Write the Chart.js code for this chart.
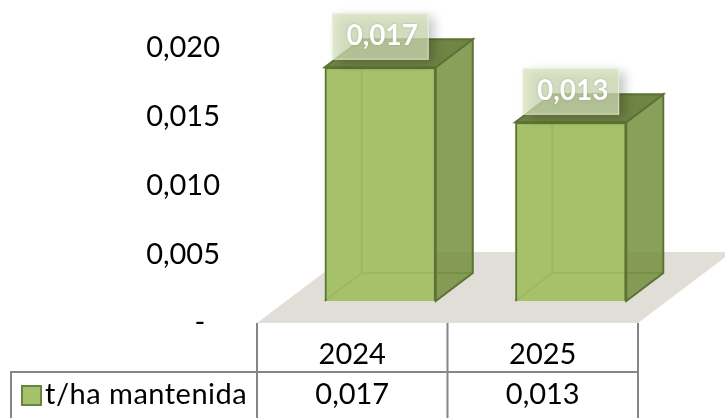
<!DOCTYPE html>
<html>
<head>
<meta charset="utf-8">
<script src="https://cdn.jsdelivr.net/npm/chart.js@4/dist/chart.umd.min.js"></script>
<style>
  html, body { margin: 0; padding: 0; background: #fff; }
  canvas { display: block; }
</style>
</head>
<body>
<canvas id="barChart" width="725" height="418"></canvas>
<script>
const years = ['2024', '2025'];
const seriesName = 't/ha mantenida';
const values = [0.017, 0.013];
const yTicks = [0, 0.005, 0.01, 0.015, 0.02];

const FONT = 'Lato, "Open Sans", sans-serif';
const depthX = 37;
const depthY = 28;
const barShiftX = 28;
const barShiftY = 22;

function fmt(v) {
  return v === 0 ? '-\u00a0\u00a0' : v.toFixed(3).replace('.', ',');
}

function poly(ctx, pts, fill, stroke) {
  ctx.beginPath();
  pts.forEach((p, i) => i ? ctx.lineTo(p[0], p[1]) : ctx.moveTo(p[0], p[1]));
  ctx.closePath();
  if (fill) { ctx.fillStyle = fill; ctx.fill(); }
  if (stroke) { ctx.strokeStyle = stroke; ctx.lineWidth = 2; ctx.stroke(); }
}

// floor of the 3D plot, sits under everything
const floorPlugin = {
  id: 'floor',
  beforeDatasetsDraw(chart) {
    const { ctx, chartArea: a } = chart;
    ctx.save();
    poly(ctx, [[a.left, a.bottom], [a.right, a.bottom], [a.right + 94, a.bottom - 71], [a.left + 94, a.bottom - 71]], '#e0ded7');
    ctx.restore();
  }
};

// moves the bar fronts into the box plane and paints the rest of each box
const boxPlugin = {
  id: 'box',
  beforeDatasetDraw(chart, args) {
    const ctx = chart.ctx;
    ctx.save();
    ctx.translate(barShiftX, -barShiftY);
    args.meta.data.forEach(bar => {
      const l = bar.x - bar.width / 2, r = bar.x + bar.width / 2;
      const t = bar.y, b = bar.base;
      const edge = '#5c7334';
      // back and floor faces show through the front
      ctx.fillStyle = '#a3bf6a';
      ctx.fillRect(l, t, r - l, b - t);
      // edges behind the front face
      ctx.strokeStyle = '#7f9a4c';
      ctx.lineWidth = 2;
      ctx.beginPath();
      ctx.moveTo(l + depthX, t - depthY);
      ctx.lineTo(l + depthX, b - depthY);
      ctx.lineTo(r + depthX, b - depthY);
      ctx.moveTo(l + depthX, b - depthY);
      ctx.lineTo(l, b);
      ctx.stroke();
      // side and top
      poly(ctx, [[r, t], [r + depthX, t - depthY], [r + depthX, b - depthY], [r, b]], 'rgba(116,143,62,0.85)', edge);
      poly(ctx, [[l, t], [l + depthX, t - depthY], [r + depthX, t - depthY], [r, t]], '#6f8545', edge);
    });
  },
  afterDatasetDraw(chart) {
    chart.ctx.restore();
  }
};

// value labels on their translucent plates
const labelPlugin = {
  id: 'valueLabels',
  afterDatasetsDraw(chart) {
    const ctx = chart.ctx;
    chart.getDatasetMeta(0).data.forEach((bar, i) => {
      const cx = bar.x + barShiftX;
      const cy = bar.y - barShiftY - 31;
      ctx.save();
      ctx.shadowColor = 'rgba(0,0,0,0.3)';
      ctx.shadowBlur = 10;
      ctx.shadowOffsetX = 6;
      ctx.shadowOffsetY = 4;
      ctx.fillStyle = 'rgba(214,226,186,0.72)';
      ctx.fillRect(cx - 48, cy - 23, 96, 46);
      ctx.restore();
      ctx.save();
      ctx.strokeStyle = 'rgba(240,245,225,0.8)';
      ctx.lineWidth = 1;
      ctx.strokeRect(cx - 48, cy - 23, 96, 46);
      ctx.shadowColor = 'rgba(60,70,30,0.35)';
      ctx.shadowBlur = 2;
      ctx.fillStyle = '#fff';
      ctx.font = 'bold 28px ' + FONT;
      ctx.textAlign = 'center';
      ctx.textBaseline = 'middle';
      ctx.fillText(fmt(values[i]), cx + 2, cy);
      ctx.restore();
    });
  }
};

// data table under the plot
const tablePlugin = {
  id: 'dataTable',
  afterDraw(chart) {
    const { ctx, chartArea: a, scales } = chart;
    const rowY = 372, endY = 418, tableLeft = 11;
    ctx.save();
    ctx.strokeStyle = '#868686';
    ctx.lineWidth = 2;
    ctx.beginPath();
    ctx.moveTo(tableLeft, endY);
    ctx.lineTo(tableLeft, rowY);
    ctx.lineTo(a.right, rowY);
    const step = (a.right - a.left) / years.length;
    for (let i = 0; i <= years.length; i++) {
      ctx.moveTo(a.left + i * step, a.bottom);
      ctx.lineTo(a.left + i * step, endY);
    }
    ctx.stroke();
    // legend key
    ctx.fillStyle = '#a5c16b';
    ctx.strokeStyle = '#6b8340';
    ctx.fillRect(22, 386, 19, 19);
    ctx.strokeRect(22, 386, 19, 19);
    ctx.fillStyle = '#000';
    ctx.font = '29px ' + FONT;
    ctx.textBaseline = 'middle';
    ctx.textAlign = 'center';
    values.forEach((v, i) => {
      ctx.fillText(fmt(v), scales.x.getPixelForValue(i), 395);
    });
    ctx.textAlign = 'left';
    ctx.letterSpacing = '0.5px';
    ctx.fillText(seriesName, 45, 395);
    ctx.restore();
  }
};

new Chart(document.getElementById('barChart'), {
  type: 'bar',
  data: {
    labels: years,
    datasets: [{
      label: seriesName,
      data: values,
      backgroundColor: 'rgba(165,193,107,0.75)',
      borderColor: '#5c7334',
      borderWidth: 2,
      barPercentage: 0.583,
      categoryPercentage: 1
    }]
  },
  plugins: [floorPlugin, boxPlugin, labelPlugin, tablePlugin],
  options: {
    responsive: false,
    animation: false,
    layout: { padding: { top: 48, right: 87, bottom: 0, left: 0 } },
    plugins: { legend: { display: false }, tooltip: { enabled: false } },
    scales: {
      x: {
        grid: { display: false },
        border: { display: false },
        ticks: { color: '#000', font: { family: FONT, size: 29 }, padding: 6, maxRotation: 0 },
        afterFit(scale) { scale.height = 95; }
      },
      y: {
        min: 0,
        max: 0.02,
        grid: { display: false, drawTicks: false },
        border: { display: false },
        afterBuildTicks(scale) { scale.ticks = yTicks.map(v => ({ value: v })); },
        afterFit(scale) {
          scale.width = 257;
          // big tick padding would otherwise push the plot top down
          scale.paddingTop = 0;
          scale.paddingBottom = 0;
        },
        ticks: {
          color: '#000',
          font: { family: FONT, size: 29 },
          padding: 37,
          callback: v => fmt(v)
        }
      }
    }
  }
});
</script>
</body>
</html>
